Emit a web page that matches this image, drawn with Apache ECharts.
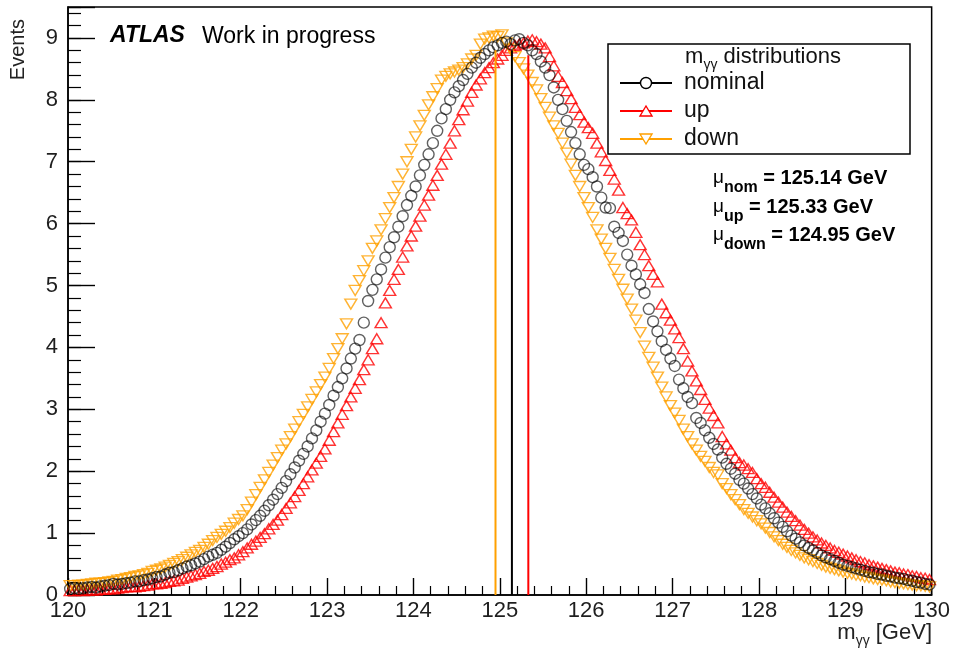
<!DOCTYPE html>
<html>
<head>
<meta charset="utf-8">
<script src="https://cdn.jsdelivr.net/npm/echarts@6/dist/echarts.min.js"></script>
<style>
  html, body { margin: 0; padding: 0; background: #fff; }
  #chart { width: 953px; height: 649px; }
</style>
</head>
<body>
<div id="chart"></div>
<script>
// Histogram binning of the diphoton mass (GeV)
const binLow = 120;
const binWidth = 0.05;

// Bin contents, 200 bins from 120 to 130 GeV
const nominal = [
  0.10,0.11,0.10,0.11,0.12,0.13,0.12,0.14,0.15,0.16,
  0.18,0.17,0.18,0.19,0.20,0.22,0.22,0.24,0.25,0.27,
  0.29,0.30,0.33,0.36,0.37,0.40,0.43,0.46,0.48,0.51,
  0.54,0.58,0.62,0.65,0.68,0.73,0.78,0.84,0.90,0.95,
  1.00,1.06,1.14,1.21,1.28,1.36,1.45,1.54,1.63,1.73,
  1.84,1.95,2.06,2.17,2.28,2.40,2.53,2.66,2.80,2.93,
  3.07,3.22,3.36,3.50,3.66,3.82,3.98,4.12,4.40,4.75,
  4.93,5.10,5.26,5.45,5.62,5.78,5.95,6.12,6.30,6.45,
  6.60,6.78,6.95,7.12,7.30,7.50,7.70,7.85,8.00,8.12,
  8.22,8.32,8.42,8.52,8.60,8.68,8.74,8.80,8.85,8.88,
  8.92,8.94,8.90,8.96,8.98,8.92,8.88,8.80,8.74,8.62,
  8.52,8.40,8.20,8.00,7.85,7.66,7.48,7.30,7.12,6.95,
  6.88,6.75,6.60,6.42,6.26,6.25,5.95,5.85,5.72,5.50,
  5.32,5.18,5.02,4.88,4.62,4.42,4.26,4.10,3.96,3.82,
  3.70,3.48,3.34,3.20,3.10,2.86,2.78,2.66,2.54,2.44,
  2.35,2.22,2.12,2.04,1.96,1.86,1.80,1.72,1.63,1.56,
  1.46,1.40,1.32,1.24,1.17,1.10,1.03,0.96,0.91,0.85,
  0.80,0.76,0.72,0.68,0.64,0.61,0.58,0.55,0.52,0.49,
  0.47,0.45,0.43,0.41,0.39,0.37,0.36,0.34,0.33,0.31,
  0.30,0.28,0.27,0.26,0.24,0.23,0.21,0.20,0.18,0.17
];

const up = [
  0.07,0.07,0.08,0.07,0.08,0.08,0.08,0.09,0.09,0.10,
  0.10,0.11,0.12,0.13,0.14,0.13,0.14,0.15,0.16,0.18,
  0.18,0.19,0.20,0.22,0.23,0.24,0.27,0.29,0.31,0.33,
  0.35,0.38,0.40,0.43,0.46,0.50,0.53,0.57,0.60,0.65,
  0.70,0.76,0.82,0.87,0.93,0.99,1.07,1.14,1.21,1.30,
  1.40,1.49,1.59,1.69,1.80,1.91,2.02,2.13,2.24,2.36,
  2.50,2.64,2.78,2.92,3.06,3.20,3.34,3.48,3.64,3.80,
  3.98,4.14,4.40,4.72,4.92,5.10,5.26,5.46,5.64,5.80,
  5.96,6.12,6.30,6.46,6.62,6.78,6.96,7.12,7.30,7.50,
  7.68,7.84,7.98,8.12,8.24,8.34,8.44,8.52,8.60,8.66,
  8.72,8.80,8.84,8.88,8.90,8.92,8.95,8.97,8.94,8.90,
  8.84,8.70,8.55,8.38,8.28,8.15,8.02,7.88,7.76,7.64,
  7.55,7.46,7.30,7.16,7.02,6.86,6.72,6.54,6.26,6.16,
  6.06,5.86,5.66,5.50,5.32,5.18,5.06,4.70,4.56,4.44,
  4.30,4.16,3.98,3.78,3.62,3.46,3.32,3.16,3.02,2.90,
  2.78,2.56,2.44,2.34,2.22,2.14,2.10,2.04,1.98,1.88,
  1.80,1.74,1.66,1.58,1.50,1.42,1.34,1.27,1.20,1.13,
  1.06,1.00,0.94,0.89,0.84,0.80,0.76,0.72,0.69,0.66,
  0.63,0.60,0.57,0.54,0.52,0.49,0.47,0.45,0.43,0.41,
  0.39,0.37,0.36,0.34,0.33,0.31,0.30,0.28,0.27,0.25
];

const down = [
  0.15,0.15,0.16,0.16,0.17,0.18,0.19,0.19,0.20,0.21,
  0.22,0.24,0.25,0.27,0.28,0.30,0.31,0.33,0.35,0.38,
  0.40,0.42,0.45,0.48,0.51,0.54,0.57,0.61,0.65,0.69,
  0.72,0.77,0.82,0.88,0.93,0.98,1.03,1.09,1.16,1.22,
  1.28,1.38,1.50,1.62,1.74,1.86,1.98,2.10,2.22,2.34,
  2.44,2.56,2.68,2.80,2.92,3.04,3.16,3.28,3.40,3.52,
  3.66,3.82,3.98,4.14,4.38,4.70,4.92,5.08,5.24,5.40,
  5.60,5.72,5.90,6.08,6.26,6.42,6.60,6.80,7.00,7.20,
  7.40,7.58,7.75,7.92,8.05,8.18,8.32,8.38,8.42,8.45,
  8.48,8.52,8.58,8.66,8.72,8.90,8.98,9.00,9.03,9.02,
  9.05,8.92,8.82,8.70,8.60,8.50,8.40,8.28,8.16,8.02,
  7.88,7.72,7.58,7.46,7.30,7.14,6.96,6.78,6.60,6.42,
  6.26,6.10,5.90,5.75,5.60,5.44,5.26,5.10,4.94,4.78,
  4.62,4.44,4.24,4.02,3.84,3.68,3.52,3.36,3.20,3.06,
  2.94,2.82,2.68,2.56,2.44,2.34,2.24,2.16,2.06,1.98,
  1.94,1.80,1.72,1.62,1.54,1.46,1.38,1.32,1.26,1.20,
  1.15,1.08,1.01,0.94,0.88,0.82,0.77,0.72,0.68,0.64,
  0.60,0.57,0.54,0.51,0.48,0.45,0.43,0.41,0.39,0.37,
  0.35,0.34,0.32,0.31,0.29,0.28,0.26,0.25,0.24,0.23,
  0.21,0.20,0.19,0.18,0.17,0.16,0.15,0.15,0.14,0.13
];

// Fitted means (GeV) and the height of the marker lines drawn at them
const meanNames = ['nom', 'up', 'down'];
const meanValues = [125.14, 125.33, 124.95];
const meanLineHeight = [8.8, 8.72, 8.8];

// Axis ticks
const xTicks = [120, 121, 122, 123, 124, 125, 126, 127, 128, 129, 130];
const yTicks = [0, 1, 2, 3, 4, 5, 6, 7, 8, 9];

const COLORS = { nominal: '#000000', up: '#ff0000', down: '#ffa000' };
const FONT = '"Liberation Sans", Arial, Helvetica, sans-serif';

function toPoints(values) {
  return values.map((v, i) => [binLow + binWidth * (i + 0.5), v]);
}

const chart = echarts.init(document.getElementById('chart'), null, { renderer: 'canvas' });

const axisColor = '#000';
const labelColor = '#1e1e1e';

const option = {
  animation: false,
  backgroundColor: '#ffffff',
  grid: {
    left: 68, right: 21, top: 7, bottom: 54,
    show: true, borderColor: '#000', borderWidth: 1.5, backgroundColor: 'transparent'
  },
  xAxis: {
    type: 'value',
    min: xTicks[0], max: xTicks[xTicks.length - 1], interval: 1,
    axisLine: { onZero: false, lineStyle: { color: axisColor, width: 1.5 } },
    axisTick: { inside: true, length: 17, lineStyle: { color: axisColor, width: 1.4 } },
    minorTick: { show: true, splitNumber: 5, length: 9, lineStyle: { color: axisColor, width: 1.2 } },
    axisLabel: { fontSize: 22, color: labelColor, fontFamily: FONT, margin: 5 },
    splitLine: { show: false }
  },
  yAxis: [
    {
      type: 'value',
      min: 0, max: 9.5, interval: 1,
      axisLine: { lineStyle: { color: axisColor, width: 1.5 } },
      axisTick: { inside: true, length: 27, lineStyle: { color: axisColor, width: 1.4 } },
      axisLabel: {
        fontSize: 22, color: labelColor, fontFamily: FONT, margin: 10,
        formatter: v => (yTicks.indexOf(v) >= 0 ? String(v) : '')
      },
      splitLine: { show: false }
    },
    {
      // minor ticks every 0.2
      type: 'value',
      position: 'left',
      min: 0, max: 9.5, interval: 0.2,
      axisLine: { show: false },
      axisTick: { inside: true, length: 13, lineStyle: { color: axisColor, width: 1.2 } },
      axisLabel: { show: false },
      splitLine: { show: false }
    }
  ],
  series: [
    {
      name: 'up', type: 'scatter', data: toPoints(up),
      symbol: 'triangle', symbolSize: [12, 10],
      itemStyle: { color: 'transparent', borderColor: COLORS.up, borderWidth: 1.4 },
      z: 3
    },
    {
      name: 'down', type: 'scatter', data: toPoints(down),
      symbol: 'triangle', symbolRotate: 180, symbolSize: [12, 10],
      itemStyle: { color: 'transparent', borderColor: COLORS.down, borderWidth: 1.4 },
      z: 4
    },
    {
      name: 'nominal', type: 'scatter', data: toPoints(nominal),
      symbol: 'circle', symbolSize: 11,
      itemStyle: { color: 'transparent', borderColor: 'rgba(0,0,0,0.78)', borderWidth: 1.4 },
      z: 5
    }
  ].concat(meanValues.map((m, i) => ({
    name: 'mean_' + meanNames[i], type: 'line',
    data: [[m, 0], [m, meanLineHeight[i]]],
    symbol: 'none',
    lineStyle: { color: [COLORS.nominal, COLORS.up, COLORS.down][i], width: 2 },
    z: 6
  })))
};

// Legend, labels and annotations
const legendX = 608, legendY = 44, legendW = 302, legendH = 110;
const entries = [
  { label: 'nominal', color: COLORS.nominal, y: 83, marker: 'circle' },
  { label: 'up', color: COLORS.up, y: 111, marker: 'up' },
  { label: 'down', color: COLORS.down, y: 139, marker: 'down' }
];
const graphics = [];

graphics.push({
  type: 'text', left: 110, top: 24,
  style: { text: 'ATLAS', font: 'italic bold 23px ' + FONT, fill: '#000' }
});
graphics.push({
  type: 'text', left: 202, top: 25,
  style: { text: 'Work in progress', font: '23px ' + FONT, fill: '#000' }
});
graphics.push({
  type: 'text', x: 18, y: 19, rotation: Math.PI / 2,
  style: { text: 'Events', font: '20px ' + FONT, fill: '#222', align: 'right', verticalAlign: 'middle' }
});
graphics.push({
  type: 'text', x: 932, y: 633,
  style: {
    text: '{m|m}{s|γγ}{m| [GeV]}', align: 'right', verticalAlign: 'middle',
    rich: {
      m: { font: '22px ' + FONT, fill: '#222', lineHeight: 30, verticalAlign: 'middle' },
      s: { font: '14px ' + FONT, fill: '#222', lineHeight: 14, verticalAlign: 'bottom' }
    }
  }
});

graphics.push({
  type: 'rect', shape: { x: legendX, y: legendY, width: legendW, height: legendH },
  style: { fill: '#fff', stroke: '#000', lineWidth: 1.5 }, z: 10
});
graphics.push({
  type: 'text', x: 763, y: 57, z: 11,
  style: {
    text: '{m|m}{s|γγ}{m| distributions}', align: 'center', verticalAlign: 'middle',
    rich: {
      m: { font: '22px ' + FONT, fill: '#111', lineHeight: 30, verticalAlign: 'middle' },
      s: { font: '14px ' + FONT, fill: '#111', lineHeight: 14, verticalAlign: 'bottom' }
    }
  }
});
entries.forEach(e => {
  graphics.push({
    type: 'line', z: 11,
    shape: { x1: 620, y1: e.y, x2: 672, y2: e.y },
    style: { stroke: e.color, lineWidth: 1.8 }
  });
  let marker;
  if (e.marker === 'circle') {
    marker = { type: 'circle', shape: { cx: 646, cy: e.y, r: 5.5 } };
  } else if (e.marker === 'up') {
    marker = { type: 'polygon', shape: { points: [[646, e.y - 5], [652, e.y + 5], [640, e.y + 5]] } };
  } else {
    marker = { type: 'polygon', shape: { points: [[646, e.y + 5], [652, e.y - 5], [640, e.y - 5]] } };
  }
  marker.z = 12;
  marker.style = { fill: '#fff', stroke: e.color, lineWidth: 1.4 };
  graphics.push(marker);
  graphics.push({
    type: 'text', x: 684, y: e.y, z: 11,
    style: { text: e.label, font: '23px ' + FONT, fill: '#111', verticalAlign: 'middle' }
  });
});

const muRows = [
  { sub: 'nom', y: 178 },
  { sub: 'up', y: 207 },
  { sub: 'down', y: 235 }
];
muRows.forEach((r, i) => {
  graphics.push({
    type: 'text', x: 713, y: r.y,
    style: {
      text: '{mu|μ}{s|' + r.sub + '}{v| = ' + meanValues[i].toFixed(2) + ' GeV}',
      verticalAlign: 'middle',
      rich: {
        mu: { font: '19px ' + FONT, fill: '#000', lineHeight: 36, verticalAlign: 'middle' },
        s: { font: 'bold 16px ' + FONT, fill: '#000', lineHeight: 14, verticalAlign: 'bottom' },
        v: { font: 'bold 20px ' + FONT, fill: '#000', lineHeight: 36, verticalAlign: 'middle' }
      }
    }
  });
});

option.graphic = graphics;
chart.setOption(option);
</script>
</body>
</html>
